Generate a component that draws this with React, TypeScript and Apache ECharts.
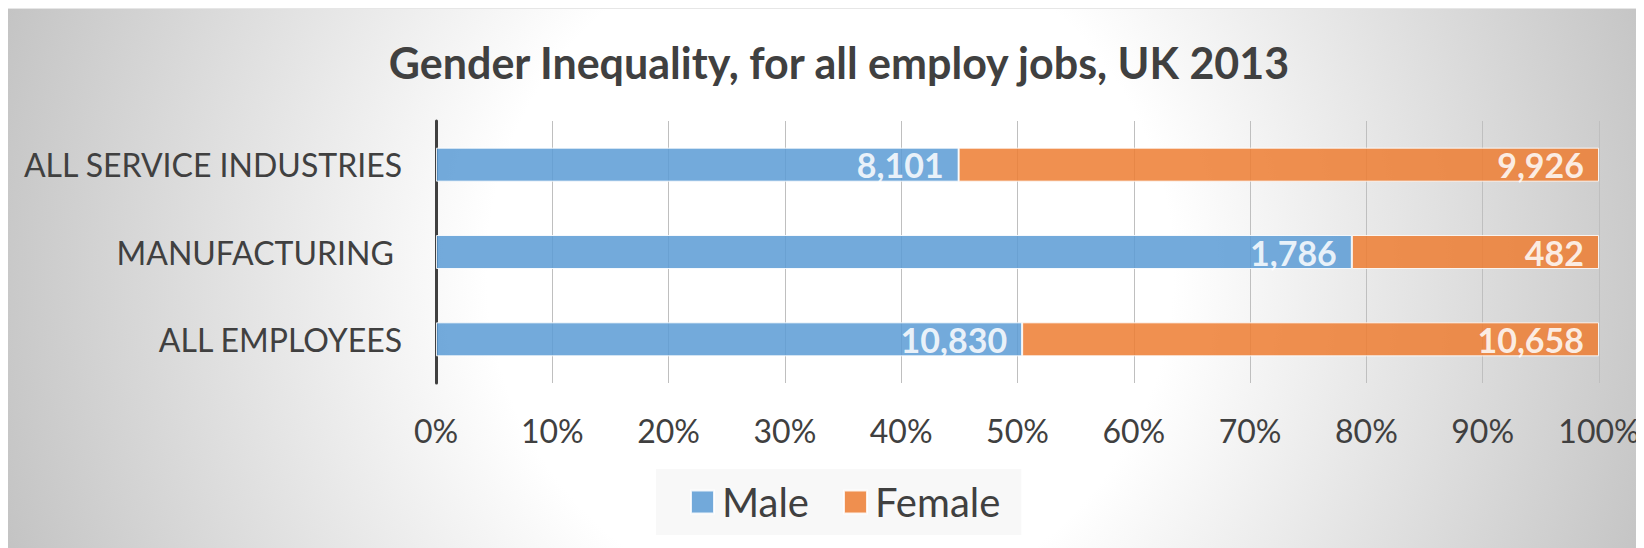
import React, { useEffect, useRef } from "react";
import * as echarts from "echarts";

const categories = ["ALL SERVICE INDUSTRIES", "MANUFACTURING ", "ALL EMPLOYEES"];
const maleValues = [8101, 1786, 10830];
const femaleValues = [9926, 482, 10658];
const seriesNames = ["Male", "Female"];
const xTicks = [0, 10, 20, 30, 40, 50, 60, 70, 80, 90, 100];

const FONT = "Lato";

export default function App() {
  const ref = useRef<HTMLDivElement>(null);
  useEffect(() => {
    if (!ref.current) return;
    const chart = echarts.init(ref.current, undefined, { renderer: "svg" });
    const totals = maleValues.map((m, i) => m + femaleValues[i]);
    const malePct = maleValues.map((m, i) => (m / totals[i]) * 100);
    const femalePct = femaleValues.map((f, i) => (f / totals[i]) * 100);
    const fmt = (v: number) => v.toLocaleString("en-US");
    const labelCommon = {
      show: true,
      position: "insideRight",
      distance: 15,
      color: "#ffffff",
      fontFamily: FONT,
      fontWeight: "bold",
      fontSize: 34,
    };
    chart.setOption({
      animation: false,
      backgroundColor: "transparent",
      title: {
        text: "Gender Inequality, for all employ jobs, UK 2013",
        left: 831,
        textAlign: "center",
        top: 32,
        padding: 0,
        textStyle: { fontFamily: FONT, fontWeight: "bold", fontSize: 43, color: "#404040" },
      },
      legend: {
        data: seriesNames,
        left: 648,
        top: 460,
        padding: [13, 21, 13, 34],
        backgroundColor: "#f8f8f8",
        itemWidth: 23,
        itemHeight: 23,
        itemGap: 34,
        icon: "rect",
        textStyle: { fontFamily: FONT, fontSize: 40, color: "#404040", padding: [0, 0, 0, 3] },
      },
      grid: { left: 428, right: 45, top: 112, bottom: 165, containLabel: false },
      xAxis: {
        type: "value",
        min: xTicks[0],
        max: xTicks[xTicks.length - 1],
        interval: 10,
        axisLine: { show: false },
        axisTick: { show: false },
        splitLine: { show: true, lineStyle: { color: "#bfbfbf", width: 1 } },
        axisLabel: {
          formatter: "{value}%",
          margin: 31,
          fontFamily: FONT,
          fontSize: 32,
          color: "#404040",
        },
      },
      yAxis: {
        type: "category",
        data: categories,
        inverse: true,
        axisLine: { show: true, lineStyle: { color: "#404040", width: 3 } },
        axisTick: { show: false },
        axisLabel: {
          margin: 34,
          fontFamily: FONT,
          fontSize: 32,
          color: "#404040",
        },
      },
      series: [
        {
          name: seriesNames[0],
          type: "bar",
          stack: "total",
          barWidth: 34,
          data: malePct,
          itemStyle: { color: "#5b9bd5", opacity: 0.85, borderColor: "#ffffff", borderWidth: 1 },
          label: { ...labelCommon, formatter: (p: any) => fmt(maleValues[p.dataIndex]) },
        },
        {
          name: seriesNames[1],
          type: "bar",
          stack: "total",
          barWidth: 34,
          data: femalePct,
          itemStyle: { color: "#ed7d31", opacity: 0.85, borderColor: "#ffffff", borderWidth: 1 },
          label: { ...labelCommon, formatter: (p: any) => fmt(femaleValues[p.dataIndex]) },
        },
      ],
    });
    return () => chart.dispose();
  }, []);
  return (
    <div
      ref={ref}
      style={{
        width: 1636,
        height: 540,
        background:
          "radial-gradient(circle 880px at 822px 262px, #ffffff 39%, #c2c2c2 100%)",
        borderTop: "1px solid #e6e6e6",
        boxSizing: "border-box",
      }}
    />
  );
}
